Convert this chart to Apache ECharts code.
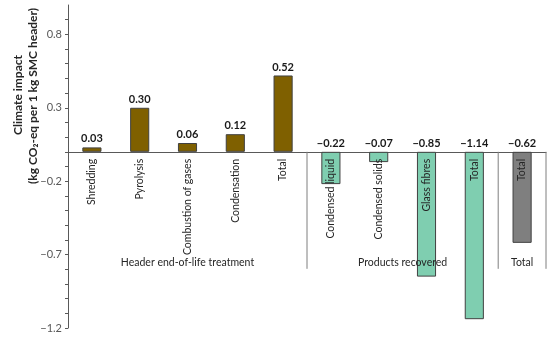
<!DOCTYPE html>
<html>
<head>
<meta charset="utf-8">
<script src="https://cdn.jsdelivr.net/npm/echarts@6/dist/echarts.min.js"></script>
<style>
html,body{margin:0;padding:0;background:#fff;}
#chart{width:550px;height:337px;}
</style>
</head>
<body>
<div id="chart"></div>
<script>
const categories = ['Shredding', 'Pyrolysis', 'Combustion of gases', 'Condensation', 'Total',
                    'Condensed liquid', 'Condensed solids', 'Glass fibres', 'Total', 'Total'];
const values = [0.03, 0.30, 0.06, 0.12, 0.52, -0.22, -0.07, -0.85, -1.14, -0.62];
const groupOfCategory = [0, 0, 0, 0, 0, 1, 1, 1, 1, 2];
const groupNames = ['Header end-of-life treatment', 'Products recovered', 'Total'];
const groupFirst = [0, 5, 9];
const groupLast = [4, 8, 9];
const yMajorLabels = [-1.2, -0.7, -0.2, 0.3, 0.8];

const groupColors = ['#7F6000', '#7FCEB0', '#7F7F7F'];
const FONT = 'Lato, "Open Sans", sans-serif';
const minus = s => s.replace('-', '\u2212');

const chart = echarts.init(document.getElementById('chart'), null, {renderer: 'canvas'});

const barData = values.map((v, i) => ({
  value: v,
  itemStyle: {color: groupColors[groupOfCategory[i]]}
}));

chart.setOption({
  animation: false,
  backgroundColor: '#fff',
  grid: {left: 68, right: 4, top: 5, bottom: 9, containLabel: false, outerBoundsMode: 'none'},
  xAxis: {
    type: 'category',
    data: categories,
    axisLine: {onZero: true, lineStyle: {color: '#595959', width: 1}},
    axisTick: {show: false},
    axisLabel: {show: false},
    splitLine: {show: false}
  },
  yAxis: {
    type: 'value',
    min: -1.2, max: 1.0, interval: 0.1,
    axisLine: {show: true, lineStyle: {color: '#595959', width: 1}},
    axisTick: {show: true, length: 3, lineStyle: {color: '#595959'}},
    splitLine: {show: false},
    axisLabel: {
      margin: 6, fontFamily: FONT, fontSize: 11, color: '#595959',
      showMaxLabel: false,
      formatter: v => {
        const hit = yMajorLabels.some(m => Math.abs(m - v) < 1e-6);
        return hit ? minus(v.toFixed(1)) : '';
      }
    }
  },
  graphic: [
    {type: 'text', x: 18, y: 95, rotation: Math.PI / 2,
     style: {text: 'Climate impact', x: 0, y: 0, align: 'center', verticalAlign: 'middle',
             font: 'bold 12px ' + FONT, fill: '#262626'}},
    {type: 'text', x: 33, y: 96, rotation: Math.PI / 2,
     style: {text: '(kg CO\u2082-eq per 1 kg SMC header)', x: 0, y: 0, align: 'center', verticalAlign: 'middle',
             font: 'bold 12px ' + FONT, fill: '#262626'}}
  ],
  series: [
    {
      type: 'bar',
      data: barData,
      barWidth: '40%',
      itemStyle: {borderColor: '#404040', borderWidth: 1},
      label: {
        show: true, position: 'top', distance: 3,
        fontFamily: FONT, fontSize: 11, fontWeight: 'bold', color: '#1a1a1a',
        formatter: p => minus(p.value.toFixed(2))
      },
      z: 2
    },
    {
      // category labels, rotated, hanging just below the zero line
      type: 'custom',
      data: categories.map((c, i) => [i]),
      clip: false,
      z: 4,
      renderItem: (params, api) => {
        const i = api.value(0);
        const p = api.coord([i, 0]);
        return {
          type: 'text',
          x: p[0], y: p[1] + 7,
          rotation: Math.PI / 2,
          style: {text: categories[i], x: 0, y: 0, align: 'right', verticalAlign: 'middle',
                  font: '10.5px ' + FONT, fill: '#262626'}
        };
      }
    },
    {
      // group separators and group names
      type: 'custom',
      data: groupLast.map((last, g) => [groupFirst[g], last, g]),
      clip: false,
      z: 5,
      renderItem: (params, api) => {
        const first = api.value(0), last = api.value(1), g = api.value(2);
        const w = api.size([1, 0])[0];
        const p1 = api.coord([first, 0]);
        const p2 = api.coord([last, 0]);
        const xRight = p2[0] + w / 2;
        const xMid = (p1[0] - w / 2 + xRight) / 2;
        const y0 = p1[1];
        return {
          type: 'group',
          children: [
            {type: 'line', shape: {x1: xRight, y1: y0, x2: xRight, y2: y0 + 117},
             style: {stroke: '#7F7F7F', lineWidth: 1}},
            {type: 'text', style: {text: groupNames[g], x: xMid, y: y0 + 111,
             align: 'center', verticalAlign: 'middle',
             font: '10.5px ' + FONT, fill: '#262626'}}
          ]
        };
      }
    }
  ]
});
</script>
</body>
</html>
